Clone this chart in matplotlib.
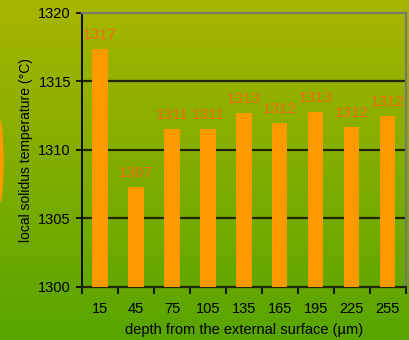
import matplotlib
matplotlib.use("Agg")
import matplotlib.pyplot as plt
import numpy as np
from matplotlib.colors import LinearSegmentedColormap
from matplotlib.patches import Ellipse

plt.rcParams["font.family"] = ["Liberation Sans", "DejaVu Sans"]

depths = ["15", "45", "75", "105", "135", "165", "195", "225", "255"]
temps = [1317.4, 1307.3, 1311.5, 1311.5, 1312.7, 1312.0, 1312.8, 1311.7, 1312.5]
labels = ["1317", "1307", "1311", "1311", "1313", "1312", "1313", "1312", "1312"]
yticks = [1300, 1305, 1310, 1315, 1320]

BAR = "#ff9900"
LABEL = "#f26a12"

fig = plt.figure(figsize=(4.1, 3.4), dpi=100)

# vertical gradient background
bg = fig.add_axes([0, 0, 1, 1], zorder=-10)
grad = LinearSegmentedColormap.from_list("bg", ["#58a500", "#a8b500"])
bg.imshow(np.linspace(0, 1, 256).reshape(-1, 1), aspect="auto", cmap=grad,
          origin="lower", extent=[0, 1, 0, 1])
bg.set_axis_off()
# stray orange shape cut off at the left edge
bg.add_patch(Ellipse((0.0, 0.525), 0.018, 0.24, color=BAR, lw=0))

ax = fig.add_axes([0.2, 0.156, 0.79, 0.806])
ax.patch.set_alpha(0)
x = np.arange(len(depths))
ax.bar(x, [t - 1300 for t in temps], bottom=1300, width=0.42, color=BAR, zorder=3)
for xi, t, lab in zip(x, temps, labels):
    ax.annotate(lab, (xi, t), xytext=(0, 5), textcoords="offset points",
                ha="center", va="bottom", color=LABEL, fontsize=11, zorder=4)

ax.set_xlim(-0.5, len(depths) - 0.5)
ax.set_ylim(1300, 1320)
ax.set_yticks(yticks)
ax.set_xticks(x)
ax.set_xticklabels(depths)
ax.set_xticks(np.arange(-0.5, len(depths)), minor=True)
ax.tick_params(axis="x", which="major", length=0, pad=11, labelsize=10.5)
ax.tick_params(axis="x", which="minor", length=5, width=1.2, direction="out")
ax.tick_params(axis="y", length=8, width=1.2, direction="inout", labelsize=10.5, pad=4)

for v in yticks[1:-1]:
    ax.axhline(v, color="#1f2600", lw=1.6, zorder=2)

ax.spines["left"].set_color("black")
ax.spines["left"].set_linewidth(1.3)
ax.spines["bottom"].set_color("#1f2600")
ax.spines["bottom"].set_linewidth(1.6)
ax.spines["top"].set_color("#7a7a6a")
ax.spines["top"].set_linewidth(1.6)
ax.spines["right"].set_color("#7a7a6a")
ax.spines["right"].set_linewidth(1.6)

ax.set_ylabel("local solidus temperature (°C)", fontsize=10, labelpad=4)
ax.set_xlabel("depth from the external surface (µm)", fontsize=10.5, labelpad=5)

fig.savefig("out.png", dpi=100)
